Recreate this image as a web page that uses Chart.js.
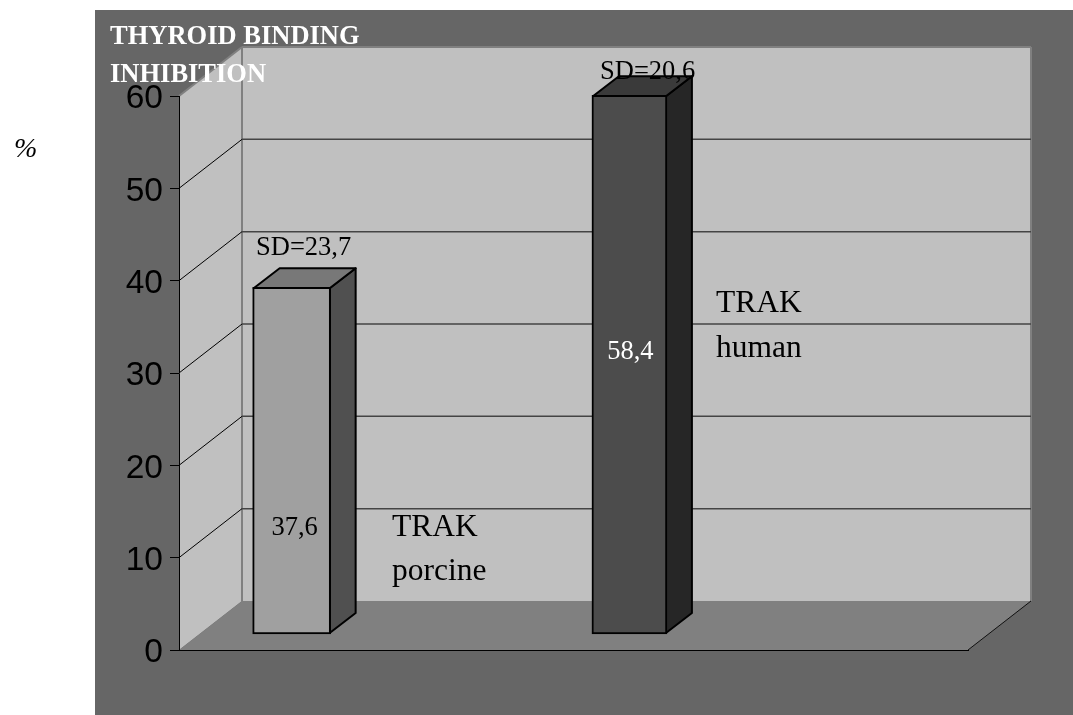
<!DOCTYPE html>
<html lang="en">
<head>
    <meta charset="UTF-8">
    <title>Thyroid binding inhibition</title>
    <script src="https://cdn.jsdelivr.net/npm/chart.js"></script>
    <style>
        html, body { margin: 0; padding: 0; background: #fff; overflow: hidden; }
        #chart-container { width: 1073px; height: 715px; }
        #bindingChart { display: block; }
    </style>
</head>
<body>
    <div id="chart-container">
        <canvas id="bindingChart" width="1073" height="715"></canvas>
    </div>

    <script>
        const categories = ['TRAK porcine', 'TRAK human'];
        const meanValues = [37.6, 58.4];
        const sdValues = [23.7, 20.6];
        const yTicks = [0, 10, 20, 30, 40, 50, 60];
        const titleLines = ['THYROID BINDING', 'INHIBITION'];
        const unitLabel = '%';

        const serif = '"Liberation Serif", serif';
        const comma = v => v.toFixed(1).replace('.', ',');

        // how far the back wall and the bar plane sit behind the front axes
        const wall = { dx: 63, dy: -49 };
        const barPlane = { dx: 12, dy: -15.5 };
        const barDepth = { dx: 26, dy: -20 };

        const barStyles = [
            { front: '#a0a0a0', side: '#505050', top: '#787878', thickness: 78 },
            { front: '#4c4c4c', side: '#262626', top: '#3a3a3a', thickness: 75 }
        ];

        function poly(ctx, pts, fill, stroke, width) {
            ctx.beginPath();
            pts.forEach((p, i) => i ? ctx.lineTo(p[0], p[1]) : ctx.moveTo(p[0], p[1]));
            ctx.closePath();
            if (fill) { ctx.fillStyle = fill; ctx.fill(); }
            if (stroke) { ctx.strokeStyle = stroke; ctx.lineWidth = width; ctx.stroke(); }
        }

        function line(ctx, x1, y1, x2, y2, color, width) {
            ctx.beginPath();
            ctx.moveTo(x1, y1);
            ctx.lineTo(x2, y2);
            ctx.strokeStyle = color;
            ctx.lineWidth = width;
            ctx.stroke();
        }

        function label(ctx, text, x, y, font, color, align) {
            ctx.font = font;
            ctx.fillStyle = color;
            ctx.textAlign = align || 'left';
            ctx.textBaseline = 'alphabetic';
            ctx.fillText(text, x, y);
        }

        // panel, walls, floor and gridlines, all under the axes
        const roomPlugin = {
            id: 'room',
            beforeDraw(chart) {
                const { ctx, chartArea: a, scales } = chart;
                const y = scales.y;
                const bx = a.left + wall.dx;
                const rx = a.right + wall.dx;
                const topB = a.top + wall.dy;
                const botB = a.bottom + wall.dy;

                ctx.save();
                ctx.fillStyle = '#666666';
                ctx.fillRect(95, 10, 978, 705);

                poly(ctx, [[bx, topB], [rx, topB], [rx, botB], [bx, botB]], '#c0c0c0');
                poly(ctx, [[a.left, a.bottom], [a.left, a.top], [bx, topB], [bx, botB]], '#c0c0c0');
                poly(ctx, [[a.left, a.bottom], [a.right, a.bottom], [rx, botB], [bx, botB]], '#808080');

                // wall edges
                line(ctx, a.left, a.top, bx, topB, '#808080', 2);
                line(ctx, bx, topB, rx, topB, '#808080', 2);
                line(ctx, bx, topB, bx, botB, '#808080', 2);
                line(ctx, rx, topB, rx, botB, '#808080', 2);
                line(ctx, a.right, a.bottom, rx, botB, '#111111', 1);

                yTicks.forEach(v => {
                    if (v === 0 || v === 60) return;
                    const py = y.getPixelForValue(v);
                    line(ctx, a.left, py, bx, py + wall.dy, '#000000', 1);
                    line(ctx, bx, py + wall.dy, rx, py + wall.dy, '#444444', 1.5);
                });
                ctx.restore();
            },
            // side and top faces first, then the library's bars shifted into the bar plane
            beforeDatasetsDraw(chart) {
                const { ctx } = chart;
                ctx.save();
                chart.data.datasets.forEach((ds, i) => {
                    const bar = chart.getDatasetMeta(i).data[i];
                    const st = barStyles[i];
                    const l = bar.x - bar.width / 2 + barPlane.dx;
                    const r = bar.x + bar.width / 2 + barPlane.dx;
                    const t = bar.y + barPlane.dy;
                    const b = bar.base + barPlane.dy;
                    const ox = barDepth.dx, oy = barDepth.dy;
                    ctx.lineJoin = 'round';
                    poly(ctx, [[r - 1, t + 1], [r - 1 + ox, t + 1 + oy], [r - 1 + ox, b - 1 + oy], [r - 1, b - 1]], st.side, '#000', 2);
                    poly(ctx, [[l + 1, t + 1], [l + 1 + ox, t + 1 + oy], [r - 1 + ox, t + 1 + oy], [r - 1, t + 1]], st.top, '#000', 2);
                });
                ctx.restore();
                ctx.save();
                ctx.translate(barPlane.dx, barPlane.dy);
            },
            afterDatasetsDraw(chart) {
                chart.ctx.restore();
            },
            afterDraw(chart) {
                const { ctx } = chart;
                const points = meanValues.map((v, i) => chart.getDatasetMeta(i).data[i]);
                ctx.save();

                label(ctx, titleLines[0], 110, 44, 'bold 26.5px ' + serif, '#ffffff');
                label(ctx, titleLines[1], 110, 82, 'bold 26.5px ' + serif, '#ffffff');
                label(ctx, unitLabel, 14, 157, 'italic 28px ' + serif, '#000000');

                // SD above each bar, mean inside it
                label(ctx, 'SD=' + comma(sdValues[0]), 256, 255, '26.5px ' + serif, '#000000');
                label(ctx, 'SD=' + comma(sdValues[1]), 600, 79, '26.5px ' + serif, '#000000');
                label(ctx, comma(meanValues[0]), points[0].x + barPlane.dx + 3, 535, '26.5px ' + serif, '#000000', 'center');
                label(ctx, comma(meanValues[1]), points[1].x + barPlane.dx + 1, 359, '26.5px ' + serif, '#ffffff', 'center');

                const [p1, p2] = categories[0].split(' ');
                const [h1, h2] = categories[1].split(' ');
                label(ctx, p1, 392, 536, '31.5px ' + serif, '#000000');
                label(ctx, p2, 392, 580, '31.5px ' + serif, '#000000');
                label(ctx, h1, 716, 312, '31.5px ' + serif, '#000000');
                label(ctx, h2, 716, 357, '31.5px ' + serif, '#000000');
                ctx.restore();
            }
        };

        const ctx = document.getElementById('bindingChart').getContext('2d');

        new Chart(ctx, {
            type: 'bar',
            data: {
                labels: categories,
                datasets: categories.map((name, i) => ({
                    label: name,
                    data: categories.map((c, j) => (i === j ? { x: j, y: meanValues[j] } : { x: j, y: null })),
                    backgroundColor: barStyles[i].front,
                    borderColor: '#000000',
                    borderWidth: 2,
                    borderSkipped: false,
                    barThickness: barStyles[i].thickness,
                    grouped: false,
                    clip: false
                }))
            },
            options: {
                responsive: false,
                animation: false,
                layout: { padding: { left: 99, top: 96, right: 105, bottom: 65 } },
                plugins: { legend: { display: false }, title: { display: false }, tooltip: { enabled: false } },
                scales: {
                    x: {
                        type: 'linear',
                        offset: false,
                        min: -0.298,
                        max: 2.038,
                        ticks: { display: false },
                        grid: { drawOnChartArea: false, drawTicks: false, offset: false },
                        border: { color: '#000000', width: 1 }
                    },
                    y: {
                        min: 0,
                        max: 60,
                        afterFit: s => { s.width = 80; },
                        afterBuildTicks: s => { s.ticks = yTicks.map(v => ({ value: v })); },
                        ticks: {
                            color: '#000000',
                            padding: 7,
                            labelOffset: 3,
                            font: { family: '"Liberation Sans", Arial, sans-serif', size: 33.5 }
                        },
                        grid: { drawOnChartArea: false, tickLength: 9, tickColor: '#000000', tickWidth: 1 },
                        border: { color: '#000000', width: 1 }
                    }
                }
            },
            plugins: [roomPlugin]
        });
    </script>
</body>
</html>
